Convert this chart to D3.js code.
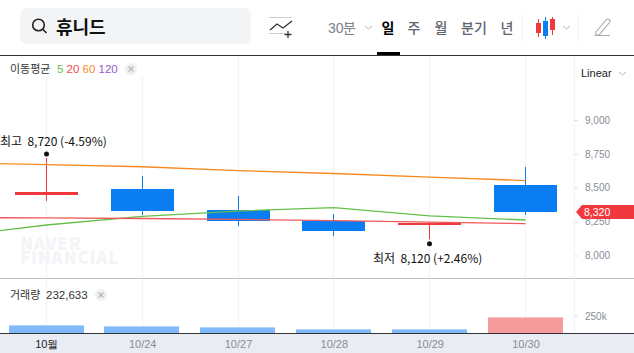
<!DOCTYPE html>
<html>
<head>
<meta charset="utf-8">
<script src="https://cdn.jsdelivr.net/npm/d3@7"></script>
<style>
html, body { margin: 0; padding: 0; background: #fff; overflow: hidden; }
text { font-family: "Noto Sans CJK KR", "Noto Sans", sans-serif; }
.num { font-family: "Liberation Sans", Roboto, sans-serif; }
</style>
</head>
<body>
<div id="chart"></div>
<script>
// first date is the day before the visible range, only the average lines reach it
var dates = ["10/22", "10/23", "10/24", "10/27", "10/28", "10/29", "10/30"];
var dateLabels = ["", "10월", "10/24", "10/27", "10/28", "10/29", "10/30"];

var candleDates = dates.slice(1);
var opens = [8446, 8491, 8336, 8255, 8225, 8520];
var closes = [8469, 8328, 8255, 8181, 8242, 8320];
var highs = [8720, 8587, 8439, 8306, 8242, 8653];
var lows = [8402, 8299, 8218, 8144, 8120, 8299];
var volumes = [118000, 103000, 88000, 62000, 60000, 232633];
var volumeUp = [false, false, false, false, false, true];

var ma5 = [8139, 8225, 8288, 8328, 8354, 8292, 8262];
var ma20 = [8280, 8277, 8273, 8267, 8257, 8247, 8235];
var ma60 = [8688, 8670, 8655, 8626, 8605, 8579, 8553];

var priceTicks = [8000, 8250, 8500, 8750, 9000];
var volumeTicks = [250000];
var tabs = [["일", 388, "#000", 700], ["주", 414, "#60656e", 500], ["월", 441, "#60656e", 500], ["분기", 474, "#60656e", 500], ["년", 507, "#60656e", 500]];
var legendItems = [["5", 57, "#65bf4a"], ["20", 66.5, "#f0484f"], ["60", 82.5, "#f5891f"], ["120", 98.5, "#9a5cd0"]];

var red = "#f0393e", blue = "#0b7df2", grid = "#f1f2f5";
var w = 634, h = 353;
var fmt = d3.format(",");

var svg = d3.select("#chart").append("svg")
    .attr("width", w)
    .attr("height", h)
    .style("display", "block");

var x = d3.scalePoint().domain(dates).range([-49.5, 525.5]);
var y = d3.scaleLinear().domain([8000, 9000]).range([255.5, 120]);
var yVol = d3.scaleLinear().domain([0, 250000]).range([333, 316]);
var bodyW = 63, volW = 75;

function candleColor(i) {
    return closes[i] >= opens[i] ? red : blue;
}
// snap to whole pixels so marks stay crisp
function cx(d) {
    return Math.floor(x(d)) + 0.5;
}

// vertical grid
svg.selectAll("line.grid")
    .data(candleDates)
    .enter()
    .append("line")
    .attr("x1", cx)
    .attr("x2", cx)
    .attr("y1", 56)
    .attr("y2", 333)
    .attr("stroke", grid);
svg.append("rect").attr("x", 0).attr("y", 56).attr("width", 165).attr("height", 20).attr("fill", "#fff");

// watermark
svg.append("text").attr("x", 20).attr("y", 250).text("NAVER")
    .attr("font-size", 17).attr("font-weight", 800).attr("fill", "#f3f4f7").attr("letter-spacing", 0.8);
svg.append("text").attr("x", 20).attr("y", 264).text("FINANCIAL")
    .attr("font-size", 17).attr("font-weight", 800).attr("fill", "#f3f4f7").attr("letter-spacing", 0.8);

// wicks and bodies
var candles = svg.selectAll("g.candle")
    .data(candleDates)
    .enter()
    .append("g")
    .attr("class", "candle");
candles.append("line")
    .attr("x1", cx)
    .attr("x2", cx)
    .attr("y1", function(d, i) { return y(highs[i]); })
    .attr("y2", function(d, i) { return y(lows[i]); })
    .attr("stroke", function(d, i) { return candleColor(i); });
candles.append("rect")
    .attr("x", function(d) { return cx(d) - bodyW / 2; })
    .attr("y", function(d, i) { return Math.round(y(Math.max(opens[i], closes[i]))); })
    .attr("width", bodyW)
    .attr("height", function(d, i) { return Math.round(y(Math.min(opens[i], closes[i]))) - Math.round(y(Math.max(opens[i], closes[i]))); })
    .attr("fill", function(d, i) { return candleColor(i); });

// moving averages
var maLine = d3.line()
    .x(function(d, i) { return x(dates[i]); })
    .y(function(d) { return y(d); });
[[ma60, "#f5891f"], [ma5, "#65bf4a"], [ma20, "#ee5a5a"]].forEach(function(m) {
    svg.append("path")
        .attr("d", maLine(m[0]))
        .attr("fill", "none")
        .attr("stroke", m[1])
        .attr("stroke-width", 1.3);
});

// high / low markers
var hiIdx = d3.maxIndex(highs);
var loIdx = d3.minIndex(lows);
var last = closes[closes.length - 1];
function pct(v) {
    var p = (last - v) / v * 100;
    return (p > 0 ? "+" : "") + p.toFixed(2) + "%";
}
svg.append("circle").attr("cx", cx(candleDates[hiIdx])).attr("cy", y(highs[hiIdx]) - 4).attr("r", 2.5).attr("fill", "#111");
svg.append("circle").attr("cx", cx(candleDates[loIdx])).attr("cy", y(lows[loIdx]) + 4.5).attr("r", 2.5).attr("fill", "#111");
svg.append("text").attr("x", 0).attr("y", 146).attr("font-size", 12).attr("fill", "#111").attr("xml:space", "preserve")
    .text("최고  " + fmt(highs[hiIdx]) + " (" + pct(highs[hiIdx]) + ")");
svg.append("text").attr("x", 373).attr("y", 263).attr("font-size", 12).attr("fill", "#111").attr("xml:space", "preserve")
    .text("최저  " + fmt(lows[loIdx]) + " (" + pct(lows[loIdx]) + ")");

// volume bars
svg.selectAll("rect.vol")
    .data(candleDates)
    .enter()
    .append("rect")
    .attr("class", "vol")
    .attr("x", function(d) { return Math.round(x(d) - volW / 2 - 0.3); })
    .attr("y", function(d, i) { return Math.round(yVol(volumes[i])); })
    .attr("width", volW)
    .attr("height", function(d, i) { return 333 - Math.round(yVol(volumes[i])); })
    .attr("fill", function(d, i) { return volumeUp[i] ? "#f59b9b" : "#80b9f9"; });
svg.selectAll("rect.volTop")
    .data(candleDates)
    .enter()
    .append("rect")
    .attr("class", "volTop")
    .attr("x", function(d) { return Math.round(x(d) - volW / 2 - 0.3); })
    .attr("y", function(d, i) { return Math.round(yVol(volumes[i])); })
    .attr("width", volW)
    .attr("height", 1)
    .attr("fill", function(d, i) { return volumeUp[i] ? "#f9c4c4" : "#b3d5fb"; });

// frame
svg.append("rect").attr("x", 0).attr("y", 55).attr("width", w).attr("height", 1).attr("fill", "#333");
svg.append("rect").attr("x", 0).attr("y", 278).attr("width", w).attr("height", 1).attr("fill", "#bcc3ca");
svg.append("rect").attr("x", 574).attr("y", 56).attr("width", 1).attr("height", 277).attr("fill", grid);
svg.append("rect").attr("x", 0).attr("y", 334).attr("width", w).attr("height", 19).attr("fill", "#e9ecf2");
svg.append("rect").attr("x", 0).attr("y", 333).attr("width", w).attr("height", 1).attr("fill", "#333");

// axes
function styleAxis(g) {
    g.select(".domain").remove();
    g.selectAll(".tick line").attr("stroke", "#dfe1e6");
    g.selectAll(".tick text").attr("class", "num").attr("fill", "#878c96").attr("font-size", 10);
}
svg.append("g")
    .attr("transform", "translate(574,0)")
    .call(d3.axisRight(y).tickValues(priceTicks).tickSize(4).tickPadding(7).tickFormat(fmt))
    .call(styleAxis);
svg.append("g")
    .attr("transform", "translate(574,0)")
    .call(d3.axisRight(yVol).tickValues(volumeTicks).tickSize(4).tickPadding(7).tickFormat(function(d) { return d / 1000 + "k"; }))
    .call(styleAxis);
svg.append("g")
    .attr("transform", "translate(0,333)")
    .call(d3.axisBottom(x).tickSize(0).tickPadding(7).tickFormat(function(d, i) { return dateLabels[i]; }))
    .call(styleAxis)
    .selectAll(".tick text")
    .attr("fill", function(d, i) { return i == 1 ? "#222" : "#878c96"; })
    .attr("font-size", 11);

// current price tag
svg.append("path").attr("d", "M576,212 L582,205 L634,205 L634,219 L582,219 Z").attr("fill", red);
svg.append("text").attr("class", "num").attr("x", 584).attr("y", 215.5).attr("font-size", 10.5).attr("fill", "#fff").text(fmt(last));

// legends
svg.append("text").attr("x", 10).attr("y", 73).attr("font-size", 11).attr("fill", "#333").text("이동평균");
svg.selectAll("text.legend")
    .data(legendItems)
    .enter()
    .append("text")
    .attr("class", "num")
    .attr("x", function(d) { return d[1]; })
    .attr("y", 73)
    .attr("font-size", 11.5)
    .attr("fill", function(d) { return d[2]; })
    .text(function(d) { return d[0]; });
svg.append("text").attr("x", 10).attr("y", 299).attr("font-size", 11).attr("fill", "#333").text("거래량");
svg.append("text").attr("class", "num").attr("x", 46).attr("y", 299).attr("font-size", 11.5).attr("fill", "#333").text(fmt(volumes[5]));
[[131, 69], [101, 295]].forEach(function(p) {
    svg.append("circle").attr("cx", p[0]).attr("cy", p[1]).attr("r", 6).attr("fill", "#f0f0f1");
    svg.append("path").attr("d", "M" + (p[0] - 2.5) + "," + (p[1] - 2.5) + "l5,5m0,-5l-5,5").attr("stroke", "#b5b7bc").attr("stroke-width", 1.2);
});
svg.append("text").attr("class", "num").attr("x", 581).attr("y", 77).attr("font-size", 11).attr("fill", "#222").text("Linear");

// header
svg.append("rect").attr("x", 20).attr("y", 8).attr("width", 231).attr("height", 36).attr("rx", 7).attr("fill", "#f3f4f6");
svg.append("circle").attr("cx", 38.5).attr("cy", 25).attr("r", 5.8).attr("fill", "none").attr("stroke", "#222").attr("stroke-width", 1.6);
svg.append("line").attr("x1", 42.7).attr("y1", 29.2).attr("x2", 46.5).attr("y2", 33).attr("stroke", "#222").attr("stroke-width", 1.6);
svg.append("text").attr("x", 56).attr("y", 33.5).attr("font-size", 18).attr("font-weight", 700).attr("fill", "#111").text("휴니드");

svg.append("path").attr("d", "M269,17.5h23M269,33.5h17").attr("stroke", "#ccc").attr("fill", "none");
svg.append("path").attr("d", "M270,30l7,-6l6,4l9,-7").attr("stroke", "#333").attr("stroke-width", 1.3).attr("fill", "none");
svg.append("path").attr("d", "M288,31v7M284.5,34.5h7").attr("stroke", "#333").attr("stroke-width", 1.3).attr("fill", "none");

svg.append("text").attr("class", "num").attr("x", 328).attr("y", 33).attr("font-size", 14).attr("fill", "#7b808a").text("30");
svg.append("text").attr("x", 343).attr("y", 33).attr("font-size", 14).attr("fill", "#7b808a").text("분");
svg.selectAll("text.tab")
    .data(tabs)
    .enter()
    .append("text")
    .attr("x", function(d) { return d[1]; })
    .attr("y", 33)
    .attr("text-anchor", "middle")
    .attr("font-size", 14)
    .attr("fill", function(d) { return d[2]; })
    .attr("font-weight", function(d) { return d[3]; })
    .text(function(d) { return d[0]; });
svg.append("rect").attr("x", 377).attr("y", 52).attr("width", 23).attr("height", 3).attr("fill", "#000");
svg.append("path").attr("d", "M522.5,14v28M578.5,14v28").attr("stroke", "#eef0f2");
svg.append("path").attr("d", "M365,26l3.5,3l3.5,-3M563,26l3.5,3l3.5,-3M619,72l3.5,3l3.5,-3").attr("stroke", "#b0b3b8").attr("fill", "none");

// candle icon
svg.append("path").attr("d", "M538.5,19v18M552.5,17v18").attr("stroke", red);
svg.append("path").attr("d", "M545.5,17v22").attr("stroke", blue);
svg.append("rect").attr("x", 536).attr("y", 23).attr("width", 5).attr("height", 10).attr("fill", red);
svg.append("rect").attr("x", 543).attr("y", 21).attr("width", 5).attr("height", 15).attr("fill", blue);
svg.append("rect").attr("x", 550).attr("y", 19).attr("width", 5).attr("height", 11).attr("fill", red);

// pencil icon
svg.append("path").attr("d", "M596,32l10,-12a2,2 0 0 1 3.5,2.5l-10,12l-4,1z").attr("fill", "none").attr("stroke", "#a5a8ad").attr("stroke-width", 1.1);
svg.append("path").attr("d", "M595,35.5h15").attr("stroke", "#a5a8ad");
</script>
</body>
</html>
